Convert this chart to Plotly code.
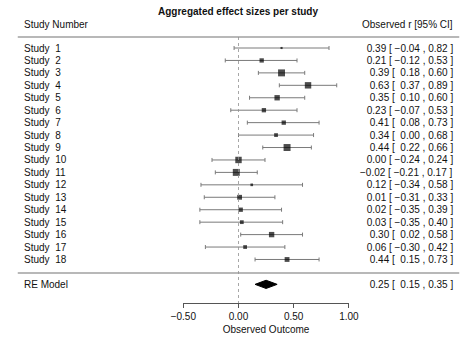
import plotly.graph_objects as go

# ---- data ----
studies = [f"Study\u00a0\u00a0{i}" for i in range(1, 19)]
estimate = [0.39, 0.21, 0.39, 0.63, 0.35, 0.23, 0.41, 0.34, 0.44,
            0.00, -0.02, 0.12, 0.01, 0.02, 0.03, 0.30, 0.06, 0.44]
ci_low = [-0.04, -0.12, 0.18, 0.37, 0.10, -0.07, 0.08, 0.00, 0.22,
          -0.24, -0.21, -0.34, -0.31, -0.35, -0.35, 0.02, -0.30, 0.15]
ci_high = [0.82, 0.53, 0.60, 0.89, 0.60, 0.53, 0.73, 0.68, 0.66,
           0.24, 0.17, 0.58, 0.33, 0.39, 0.40, 0.58, 0.42, 0.73]
weights = [2.4, 4.9, 7.9, 7.3, 6.1, 4.9, 4.9, 4.3, 7.9,
           7.3, 7.9, 3.0, 5.5, 4.9, 4.3, 6.1, 4.3, 5.5]  # percent
re_label = "RE Model"
re_est, re_low, re_high = 0.25, 0.15, 0.35
x_ticks = [-0.5, 0.0, 0.5, 1.0]

# ---- geometry (pixels) ----
W, H = 474, 341
X0, PXU = 237, 116          # pixel of x=0, pixels per unit
ROW0, ROWH = 48, 12.44      # pixel of first row, row height
FONT = "Liberation Sans, Arial, Helvetica, sans-serif"


def xu(px):
    return (px - X0) / PXU


def yu(px):
    return 1 + (px - ROW0) / ROWH


def fmt(v):
    s = f"{v:.2f}"
    return s.replace("-", "\u2212") if v < 0 else "\u00a0" + s


def ci_text(e, lo, hi):
    return f"{fmt(e)} [ {fmt(lo)} , {hi:.2f} ]"


n = len(studies)
rows = list(range(1, n + 1))
re_row = n + 2

fig = go.Figure()

# confidence intervals
fig.add_trace(go.Scatter(
    x=estimate, y=rows, mode="markers",
    marker=dict(size=1, opacity=0),
    error_x=dict(type="data", symmetric=False,
                 array=[h - e for h, e in zip(ci_high, estimate)],
                 arrayminus=[e - l for e, l in zip(estimate, ci_low)],
                 color="#7a7a7a", thickness=1, width=2),
    hoverinfo="skip", showlegend=False, cliponaxis=False,
))

# study estimates, square size by weight
fig.add_trace(go.Scatter(
    x=estimate, y=rows, mode="markers",
    marker=dict(symbol="square", size=[w * 0.88 for w in weights],
                color="black", line=dict(width=0)),
    hoverinfo="skip", showlegend=False, cliponaxis=False,
))

# pooled estimate diamond
dh = 0.33
fig.add_trace(go.Scatter(
    x=[re_low, re_est, re_high, re_est, re_low],
    y=[re_row, re_row - dh, re_row, re_row + dh, re_row],
    mode="lines", fill="toself", fillcolor="black",
    line=dict(color="black", width=1),
    hoverinfo="skip", showlegend=False,
))

# hidden trace attached to the outcome axis
fig.add_trace(go.Scatter(x=[x_ticks[0], x_ticks[-1]], y=[None, None],
                         xaxis="x2", yaxis="y", mode="markers",
                         showlegend=False, hoverinfo="skip"))

shapes = []
# separator lines
for py in (37, 273):
    shapes.append(dict(type="line", xref="x", yref="y",
                       x0=xu(5), x1=xu(469), y0=yu(py), y1=yu(py),
                       line=dict(color="#a0a0a0", width=1.5)))
# reference line at zero
shapes.append(dict(type="line", xref="x", yref="y", x0=0, x1=0,
                   y0=yu(37), y1=yu(303),
                   line=dict(color="#909090", width=0.8, dash="dot")))

ann = []
txt = dict(family=FONT, size=10, color="#111111")
for r, lab, e, lo, hi in zip(rows, studies, estimate, ci_low, ci_high):
    ann.append(dict(x=xu(9), y=r, text=lab, xanchor="left", yanchor="middle",
                    showarrow=False, font=txt))
    ann.append(dict(x=xu(465), y=r, text=ci_text(e, lo, hi), xanchor="right",
                    yanchor="middle", showarrow=False, font=txt))
ann.append(dict(x=xu(9), y=re_row, text=re_label, xanchor="left",
                yanchor="middle", showarrow=False, font=txt))
ann.append(dict(x=xu(465), y=re_row, text=ci_text(re_est, re_low, re_high),
                xanchor="right", yanchor="middle", showarrow=False, font=txt))
ann.append(dict(x=xu(9), y=yu(24), text="Study Number", xanchor="left",
                yanchor="middle", showarrow=False, font=txt))
ann.append(dict(x=xu(465), y=yu(24), text="Observed r [95% CI]",
                xanchor="right", yanchor="middle", showarrow=False, font=txt))
ann.append(dict(x=xu(236), y=yu(11), text="<b>Aggregated effect sizes per study</b>",
                xanchor="center", yanchor="middle", showarrow=False,
                font=dict(family=FONT, size=10, color="#111111")))

fig.update_layout(
    width=W, height=H, margin=dict(l=0, r=0, t=0, b=0),
    paper_bgcolor="white", plot_bgcolor="rgba(0,0,0,0)",
    xaxis=dict(range=[xu(0), xu(W)], visible=False, fixedrange=True),
    xaxis2=dict(domain=[xu(179) / (xu(W) - xu(0)) + 0.5,
                        xu(353) / (xu(W) - xu(0)) + 0.5],
                range=[x_ticks[0], x_ticks[-1]], anchor="free",
                position=1 - 303 / H,
                tickvals=x_ticks, tickformat=".2f",
                showline=True, linecolor="#555555", linewidth=1,
                ticks="outside", ticklen=4, tickcolor="#555555",
                showgrid=False, zeroline=False,
                tickfont=dict(family=FONT, size=10, color="#111111"),
                title=dict(text="Observed Outcome", standoff=4,
                           font=dict(family=FONT, size=10, color="#111111"))),
    yaxis=dict(range=[yu(H), yu(0)], visible=False, fixedrange=True),
    shapes=shapes, annotations=ann,
)

fig.write_html("out.html")
